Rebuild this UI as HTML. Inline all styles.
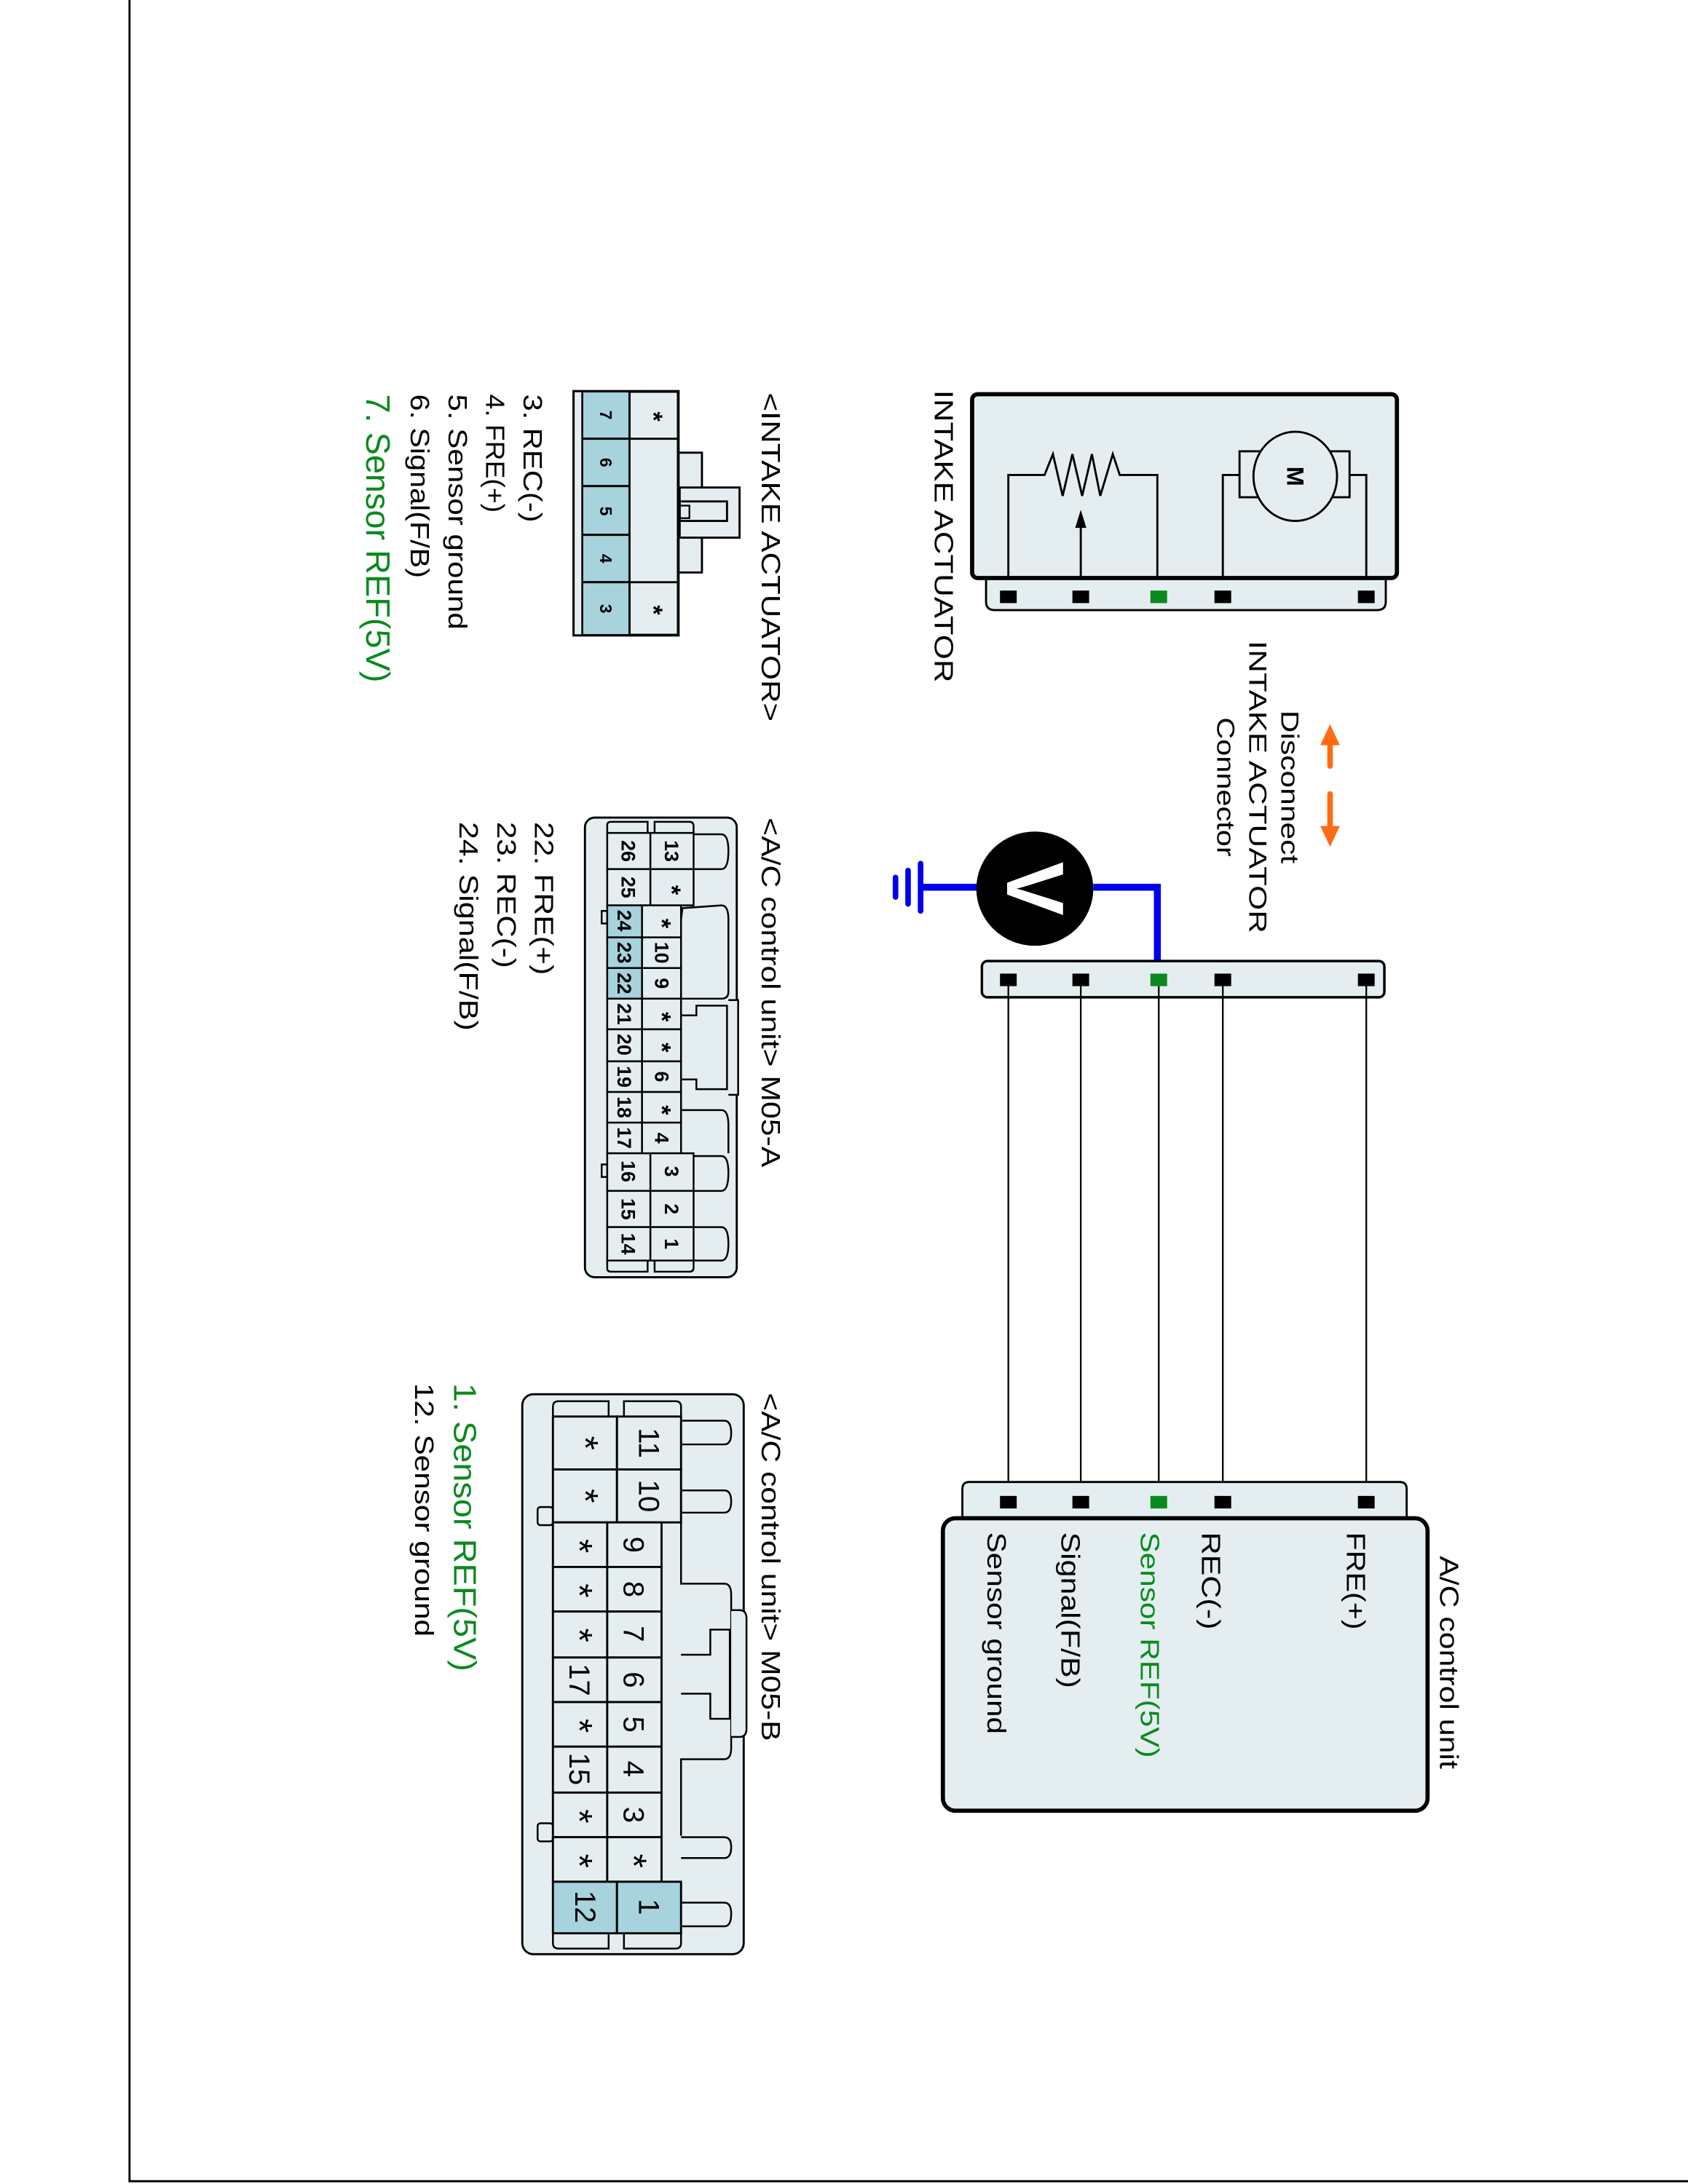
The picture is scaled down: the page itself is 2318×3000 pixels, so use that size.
<!DOCTYPE html>
<html><head><meta charset="utf-8"><style>
html,body{margin:0;padding:0;background:#fff;}
svg{display:block;}
text{font-family:"Liberation Sans",Arial,sans-serif;}
</style></head><body>
<svg width="2318" height="3000" viewBox="0 0 1212 1568" preserveAspectRatio="none" xmlns="http://www.w3.org/2000/svg">
<rect x="0" y="0" width="1212" height="1568" fill="#fff"/>
<rect x="93" y="-2" width="1122" height="1568" fill="none" stroke="#000" stroke-width="1.5"/>

<!-- INTAKE ACTUATOR box -->
<path d="M708 414 L708 432 Q708 438 714 438 L989 438 Q995 438 995 432 L995 414" fill="#e4eef0" stroke="#000" stroke-width="1.5"/>
<rect x="698" y="283" width="305" height="132" rx="4" fill="#e4eef0" stroke="#000" stroke-width="3"/>
<g fill="#000"><rect x="718" y="424" width="12" height="9"/><rect x="770" y="424" width="12" height="9"/><rect x="826" y="424" width="12" height="9" fill="#0a8a1e"/><rect x="872" y="424" width="12" height="9"/><rect x="975" y="424" width="12" height="9"/></g>
<polyline points="724,415 724,341 750,341 756,326 763,356 770,326 777,356 784,326 790,356 799,326 804,341 831,341 831,415" fill="none" stroke="#000" stroke-width="1.5"/>
<line x1="776" y1="415" x2="776" y2="376" stroke="#000" stroke-width="1.5"/>
<polygon points="776,366 772,379 780,379" fill="#000"/>
<polyline points="878,415 878,341 890,341" fill="none" stroke="#000" stroke-width="1.5"/>
<polyline points="981,415 981,341 969,341" fill="none" stroke="#000" stroke-width="1.5"/>
<rect x="890" y="324" width="79" height="33" fill="none" stroke="#000" stroke-width="1.5"/>
<ellipse cx="930" cy="342" rx="30" ry="32" fill="#e4eef0" stroke="#000" stroke-width="1.5"/>
<text transform="translate(930,342) rotate(90)" text-anchor="middle" dominant-baseline="central" font-size="17" font-weight="bold">M</text>
<text transform="translate(671,280) rotate(90)" font-size="19" textLength="210" lengthAdjust="spacingAndGlyphs">INTAKE ACTUATOR</text>

<!-- Disconnect -->
<g stroke="#ff6a13" stroke-width="4" stroke-linecap="round"><line x1="955" y1="530" x2="955" y2="550"/><line x1="955" y1="570" x2="955" y2="596"/></g>
<polygon points="955,520 948,535 962,535" fill="#ff6a13"/>
<polygon points="955,608 948,593 962,593" fill="#ff6a13"/>
<text transform="translate(920,565) rotate(90)" text-anchor="middle" font-size="18" textLength="110" lengthAdjust="spacingAndGlyphs">Disconnect</text>
<text transform="translate(897,565) rotate(90)" text-anchor="middle" font-size="18" textLength="210" lengthAdjust="spacingAndGlyphs">INTAKE ACTUATOR</text>
<text transform="translate(874,565) rotate(90)" text-anchor="middle" font-size="18" textLength="100" lengthAdjust="spacingAndGlyphs">Connector</text>

<!-- voltmeter -->
<polyline points="785,637 831,637 831,703" fill="none" stroke="#0000ee" stroke-width="5"/>
<line x1="662" y1="637" x2="702" y2="637" stroke="#0000ee" stroke-width="5"/>
<g stroke="#0000ee" stroke-width="4" stroke-linecap="round"><line x1="661" y1="620" x2="661" y2="654"/><line x1="652" y1="625" x2="652" y2="649"/><line x1="643" y1="630" x2="643" y2="644"/></g>
<ellipse cx="743" cy="638" rx="42" ry="41" fill="#000"/>
<text transform="translate(743,638) rotate(90)" text-anchor="middle" dominant-baseline="central" font-size="58" font-weight="bold" fill="#fff">V</text>

<!-- middle connector strip -->
<rect x="705" y="690" width="289" height="26" rx="4" fill="#e4eef0" stroke="#000" stroke-width="1.8"/>
<g stroke="#000" stroke-width="1.2"><line x1="724" y1="703" x2="724" y2="1078"/><line x1="776" y1="703" x2="776" y2="1078"/><line x1="832" y1="708" x2="832" y2="1078"/><line x1="878" y1="703" x2="878" y2="1078"/><line x1="981" y1="703" x2="981" y2="1078"/></g>
<g fill="#000"><rect x="718" y="699" width="12" height="9"/><rect x="770" y="699" width="12" height="9"/><rect x="826" y="699" width="12" height="9" fill="#0a8a1e"/><rect x="872" y="699" width="12" height="9"/><rect x="975" y="699" width="12" height="9"/></g>

<!-- ACU -->
<path d="M691 1093 L691 1069 Q691 1064 696 1064 L1005 1064 Q1010 1064 1010 1069 L1010 1093" fill="#e4eef0" stroke="#000" stroke-width="1.5"/>
<rect x="677" y="1090" width="348" height="210" rx="9" fill="#e4eef0" stroke="#000" stroke-width="3"/>
<g fill="#000"><rect x="718" y="1074" width="12" height="9"/><rect x="770" y="1074" width="12" height="9"/><rect x="826" y="1074" width="12" height="9" fill="#0a8a1e"/><rect x="872" y="1074" width="12" height="9"/><rect x="975" y="1074" width="12" height="9"/></g>
<g font-size="19" lengthAdjust="spacingAndGlyphs">
<text transform="translate(1034,1117) rotate(90)" textLength="153" lengthAdjust="spacingAndGlyphs">A/C control unit</text>
<text transform="translate(967,1100) rotate(90)" textLength="70" lengthAdjust="spacingAndGlyphs">FRE(+)</text>
<text transform="translate(863,1100) rotate(90)" textLength="70" lengthAdjust="spacingAndGlyphs">REC(-)</text>
<text transform="translate(819,1100) rotate(90)" fill="#0a8a1e" textLength="162" lengthAdjust="spacingAndGlyphs">Sensor REF(5V)</text>
<text transform="translate(762,1100) rotate(90)" textLength="112" lengthAdjust="spacingAndGlyphs">Signal(F/B)</text>
<text transform="translate(709,1100) rotate(90)" textLength="145" lengthAdjust="spacingAndGlyphs">Sensor ground</text>
</g>

<!-- INTAKE ACTUATOR connector -->
<text transform="translate(547,282) rotate(90)" font-size="19" textLength="236" lengthAdjust="spacingAndGlyphs">&lt;INTAKE ACTUATOR&gt;</text>
<rect x="487" y="325" width="17" height="86" fill="#e4eef0" stroke="#000" stroke-width="1.5"/>
<rect x="488" y="350" width="43" height="36" fill="#e4eef0" stroke="#000" stroke-width="1.5"/>
<rect x="488" y="360" width="34" height="14" fill="none" stroke="#000" stroke-width="1.5"/>
<rect x="488" y="363" width="7" height="9" fill="none" stroke="#000" stroke-width="1.2"/>
<rect x="412" y="281" width="75" height="175" fill="#e4eef0" stroke="#000" stroke-width="2"/>
<g fill="#a7d3dc" stroke="#000" stroke-width="1.5">
<rect x="418" y="281" width="34" height="34"/><rect x="418" y="315" width="34" height="34"/><rect x="418" y="349" width="34" height="35"/><rect x="418" y="384" width="34" height="34"/><rect x="418" y="418" width="34" height="38"/>
</g>
<rect x="412" y="281" width="6" height="175" fill="#e4eef0" stroke="#000" stroke-width="1.2"/>
<g fill="none" stroke="#000" stroke-width="1.5"><rect x="452" y="281" width="35" height="34"/><rect x="452" y="418" width="35" height="38"/></g>
<g font-size="12" font-weight="bold" text-anchor="middle" dominant-baseline="central">
<text transform="translate(435,298) rotate(90)">7</text><text transform="translate(435,332) rotate(90)">6</text><text transform="translate(435,367) rotate(90)">5</text><text transform="translate(435,401) rotate(90)">4</text><text transform="translate(435,437) rotate(90)">3</text>
<text transform="translate(469,299) rotate(90)" font-size="18">*</text><text transform="translate(469,438) rotate(90)" font-size="18">*</text>
</g>
<text transform="translate(376,283) rotate(90)" font-size="19" textLength="92" lengthAdjust="spacingAndGlyphs">3. REC(-)</text>
<text transform="translate(349,283) rotate(90)" font-size="19" textLength="85" lengthAdjust="spacingAndGlyphs">4. FRE(+)</text>
<text transform="translate(322,283) rotate(90)" font-size="19" textLength="169" lengthAdjust="spacingAndGlyphs">5. Sensor ground</text>
<text transform="translate(295,283) rotate(90)" font-size="19" textLength="132" lengthAdjust="spacingAndGlyphs">6. Signal(F/B)</text>
<text transform="translate(263,283) rotate(90)" font-size="24" fill="#0a8a1e" textLength="207" lengthAdjust="spacingAndGlyphs">7. Sensor REF(5V)</text>

<!-- M05-A -->
<text transform="translate(547,587) rotate(90)" font-size="19" textLength="251" lengthAdjust="spacingAndGlyphs">&lt;A/C control unit&gt; M05-A</text>
<rect x="420" y="587" width="109" height="330" rx="7" fill="#e4eef0" stroke="#000" stroke-width="1.5"/>
<g fill="#e4eef0" stroke="#000" stroke-width="1.3">
<path d="M498 599 L518 599 Q523 599 523 611 Q523 624 518 624 L498 624"/>
<path d="M489 660 L490 652 L518 650 Q523 650 523 660 L523 712 Q523 717 518 717 L489 717"/>
<path d="M523 718 L530 718 L530 786 L523 786"/>
<path d="M489 729 L500 729 L500 722 L522 722 L522 782 L500 782 L500 775 L489 775" fill="none"/>
<path d="M489 797 L518 797 Q523 797 523 808 L523 828"/>
<path d="M498 830 L518 830 Q523 830 523 842 Q523 855 518 855 L498 855"/>
<path d="M498 881 L518 881 Q523 881 523 893 Q523 905 518 905 L498 905"/>
<path d="M436 598 L436 592 Q436 590 439 590 L465 590 L465 598"/>
<path d="M470 598 L470 590 L495 590 Q498 590 498 593 L498 598"/>
<path d="M436 905 L436 911 Q436 913 439 913 L465 913 L465 905"/>
<path d="M470 905 L470 913 L495 913 Q498 913 498 910 L498 905"/>
<rect x="432" y="654" width="4" height="9"/><rect x="432" y="836" width="4" height="9"/>
</g>
<g stroke="#000" stroke-width="1.3" fill="#e4eef0">
<rect x="436" y="598" width="31" height="26"/><rect x="436" y="624" width="31" height="26"/>
<rect x="436" y="650" width="25" height="23" fill="#a7d3dc"/><rect x="436" y="673" width="25" height="22" fill="#a7d3dc"/><rect x="436" y="695" width="25" height="22" fill="#a7d3dc"/>
<rect x="436" y="717" width="25" height="22"/><rect x="436" y="739" width="25" height="23"/><rect x="436" y="762" width="25" height="22"/><rect x="436" y="784" width="25" height="22"/><rect x="436" y="806" width="25" height="22"/>
<rect x="436" y="828" width="31" height="27"/><rect x="436" y="855" width="31" height="26"/><rect x="436" y="881" width="31" height="24"/>
<rect x="467" y="598" width="31" height="26"/><rect x="467" y="624" width="31" height="26"/>
<rect x="461" y="650" width="28" height="23"/><rect x="461" y="673" width="28" height="22"/><rect x="461" y="695" width="28" height="22"/><rect x="461" y="717" width="28" height="22"/><rect x="461" y="739" width="28" height="23"/><rect x="461" y="762" width="28" height="22"/><rect x="461" y="784" width="28" height="22"/><rect x="461" y="806" width="28" height="22"/>
<rect x="467" y="828" width="31" height="27"/><rect x="467" y="855" width="31" height="26"/><rect x="467" y="881" width="31" height="24"/>
</g>
<g font-size="14" font-weight="bold" text-anchor="middle" dominant-baseline="central">
<text transform="translate(451,611) rotate(90)">26</text><text transform="translate(451,637) rotate(90)">25</text>
<text transform="translate(448,661) rotate(90)">24</text><text transform="translate(448,684) rotate(90)">23</text><text transform="translate(448,706) rotate(90)">22</text><text transform="translate(448,728) rotate(90)">21</text><text transform="translate(448,750) rotate(90)">20</text><text transform="translate(448,773) rotate(90)">19</text><text transform="translate(448,795) rotate(90)">18</text><text transform="translate(448,817) rotate(90)">17</text>
<text transform="translate(451,841) rotate(90)">16</text><text transform="translate(451,868) rotate(90)">15</text><text transform="translate(451,893) rotate(90)">14</text>
<text transform="translate(482,611) rotate(90)">13</text><text transform="translate(482,639) rotate(90)" font-size="18">*</text>
<text transform="translate(475,663) rotate(90)" font-size="18">*</text><text transform="translate(475,684) rotate(90)">10</text><text transform="translate(475,706) rotate(90)">9</text><text transform="translate(475,730) rotate(90)" font-size="18">*</text><text transform="translate(475,752) rotate(90)" font-size="18">*</text><text transform="translate(475,773) rotate(90)">6</text><text transform="translate(475,797) rotate(90)" font-size="18">*</text><text transform="translate(475,817) rotate(90)">4</text>
<text transform="translate(482,841) rotate(90)">3</text><text transform="translate(482,868) rotate(90)">2</text><text transform="translate(482,893) rotate(90)">1</text>
</g>
<text transform="translate(384,590) rotate(90)" font-size="19" textLength="110" lengthAdjust="spacingAndGlyphs">22. FRE(+)</text>
<text transform="translate(357,590) rotate(90)" font-size="19" textLength="105" lengthAdjust="spacingAndGlyphs">23. REC(-)</text>
<text transform="translate(330,590) rotate(90)" font-size="19" textLength="150" lengthAdjust="spacingAndGlyphs">24. Signal(F/B)</text>

<!-- M05-B -->
<text transform="translate(547,1000) rotate(90)" font-size="19" textLength="250" lengthAdjust="spacingAndGlyphs">&lt;A/C control unit&gt; M05-B</text>
<rect x="375" y="1001" width="159" height="402" rx="8" fill="#e4eef0" stroke="#000" stroke-width="1.5"/>
<g fill="#e4eef0" stroke="#000" stroke-width="1.3">
<path d="M489 1020 L520 1020 Q525 1020 525 1029 Q525 1037 520 1037 L489 1037"/>
<path d="M489 1070 L520 1070 Q525 1070 525 1078 Q525 1086 520 1086 L489 1086"/>
<path d="M489 1093 L489 1137 L520 1137 Q525 1137 525 1145 L525 1255 Q525 1263 520 1263 L489 1263 L489 1318"/>
<path d="M525 1156 L531 1156 Q536 1156 536 1162 L536 1241 Q536 1247 531 1247 L525 1247"/>
<path d="M489 1188 L510 1188 L510 1170 L524 1170 L524 1234 L510 1234 L510 1216 L489 1216" fill="none"/>
<path d="M489 1319 L520 1319 Q525 1319 525 1326 Q525 1334 520 1334 L489 1334"/>
<path d="M489 1366 L520 1366 Q525 1366 525 1374 Q525 1383 520 1383 L489 1383"/>
<path d="M397 1017 L397 1010 Q397 1006 401 1006 L437 1006 L437 1017"/>
<path d="M448 1017 L448 1006 L485 1006 Q489 1006 489 1010 L489 1017"/>
<path d="M397 1388 L397 1395 Q397 1399 401 1399 L437 1399 L437 1388"/>
<path d="M448 1388 L448 1399 L485 1399 Q489 1399 489 1395 L489 1388"/>
<rect x="386" y="1082" width="11" height="13" rx="2"/><rect x="386" y="1309" width="11" height="13" rx="2"/>
</g>
<g stroke="#000" stroke-width="1.5" fill="#e4eef0">
<rect x="397" y="1017" width="46" height="38"/><rect x="397" y="1055" width="46" height="38"/>
<rect x="443" y="1017" width="46" height="38"/><rect x="443" y="1055" width="46" height="38"/>
<rect x="397" y="1093" width="39" height="32"/><rect x="397" y="1125" width="39" height="32"/><rect x="397" y="1157" width="39" height="33"/><rect x="397" y="1190" width="39" height="32"/><rect x="397" y="1222" width="39" height="32"/><rect x="397" y="1254" width="39" height="33"/><rect x="397" y="1287" width="39" height="32"/><rect x="397" y="1319" width="39" height="32"/>
<rect x="436" y="1093" width="39" height="32"/><rect x="436" y="1125" width="39" height="32"/><rect x="436" y="1157" width="39" height="33"/><rect x="436" y="1190" width="39" height="32"/><rect x="436" y="1222" width="39" height="32"/><rect x="436" y="1254" width="39" height="33"/><rect x="436" y="1287" width="39" height="32"/><rect x="436" y="1319" width="39" height="32"/>
<rect x="397" y="1351" width="46" height="37" fill="#a7d3dc"/><rect x="443" y="1351" width="46" height="37" fill="#a7d3dc"/>
</g>
<g font-size="21" text-anchor="middle" dominant-baseline="central">
<text transform="translate(420,1036) rotate(90)" font-size="26">*</text><text transform="translate(466,1036) rotate(90)">11</text>
<text transform="translate(420,1074) rotate(90)" font-size="26">*</text><text transform="translate(466,1074) rotate(90)">10</text>
<text transform="translate(416,1110) rotate(90)" font-size="26">*</text><text transform="translate(455,1109) rotate(90)">9</text>
<text transform="translate(416,1142) rotate(90)" font-size="26">*</text><text transform="translate(455,1141) rotate(90)">8</text>
<text transform="translate(416,1174) rotate(90)" font-size="26">*</text><text transform="translate(455,1173) rotate(90)">7</text>
<text transform="translate(416,1206) rotate(90)">17</text><text transform="translate(455,1206) rotate(90)">6</text>
<text transform="translate(416,1239) rotate(90)" font-size="26">*</text><text transform="translate(455,1238) rotate(90)">5</text>
<text transform="translate(416,1270) rotate(90)">15</text><text transform="translate(455,1270) rotate(90)">4</text>
<text transform="translate(416,1304) rotate(90)" font-size="26">*</text><text transform="translate(455,1303) rotate(90)">3</text>
<text transform="translate(416,1336) rotate(90)" font-size="26">*</text><text transform="translate(455,1336) rotate(90)" font-size="26">*</text>
<text transform="translate(420,1369) rotate(90)">12</text><text transform="translate(466,1369) rotate(90)">1</text>
</g>
<text transform="translate(326,993) rotate(90)" font-size="23" fill="#0a8a1e" textLength="207" lengthAdjust="spacingAndGlyphs">1. Sensor REF(5V)</text>
<text transform="translate(298,993) rotate(90)" font-size="19" textLength="182" lengthAdjust="spacingAndGlyphs">12. Sensor ground</text>
</svg>
</body></html>
